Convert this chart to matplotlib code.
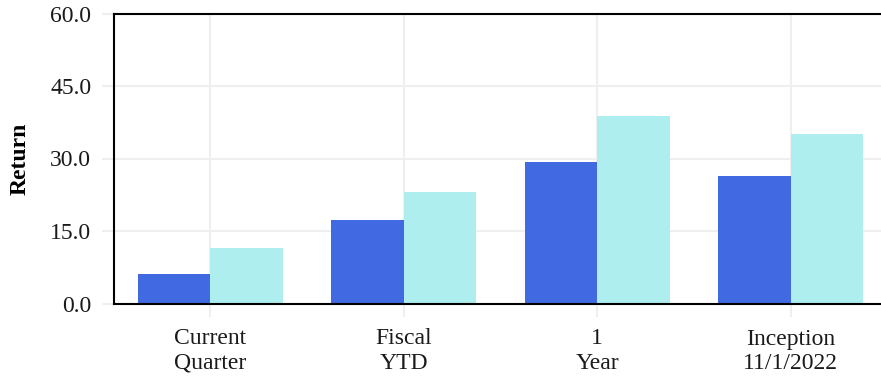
import matplotlib.pyplot as plt
import numpy as np

# values
categories = ["Current\nQuarter", "Fiscal\nYTD", "1\nYear", "Inception\n11/1/2022"]
series_a = [6.2, 17.3, 29.3, 26.4]
series_b = [11.5, 23.1, 38.8, 35.1]
y_ticks = [0, 15, 30, 45, 60]

plt.rcParams['font.family'] = ['Liberation Serif', 'DejaVu Serif']

fig = plt.figure(figsize=(8.81, 3.81), dpi=100)
ax = fig.add_axes([113.5 / 881, 77.5 / 381, 774 / 881, 290 / 381])

x = np.arange(len(categories))
w = 0.375
ax.bar(x - w / 2, series_a, w, color='#4169E1')
ax.bar(x + w / 2, series_b, w, color='#AFEEEE')

ax.set_xlim(-0.5, 3.5)
ax.set_ylim(0, 60)
ax.set_yticks(y_ticks)
ax.set_yticklabels([f"{v:.1f}" for v in y_ticks])
ax.set_xticks(x)
ax.set_xticklabels(categories, linespacing=1.2)

ax.set_axisbelow(True)
ax.grid(True, color='#efefef', linewidth=1.5)
ax.tick_params(axis='both', colors='#efefef', width=1.5, length=9,
               labelsize=17, labelcolor='#1a1a1a')
ax.tick_params(axis='y', pad=7)
ax.tick_params(axis='x', pad=9)

for side in ['left', 'bottom', 'top']:
    ax.spines[side].set_color('black')
    ax.spines[side].set_linewidth(1.5)
ax.spines['right'].set_visible(False)

ax.set_ylabel("Return", fontsize=17, fontweight='bold')
ax.yaxis.set_label_coords(-0.107, 0.5)

fig.savefig("out.png", dpi=100)
